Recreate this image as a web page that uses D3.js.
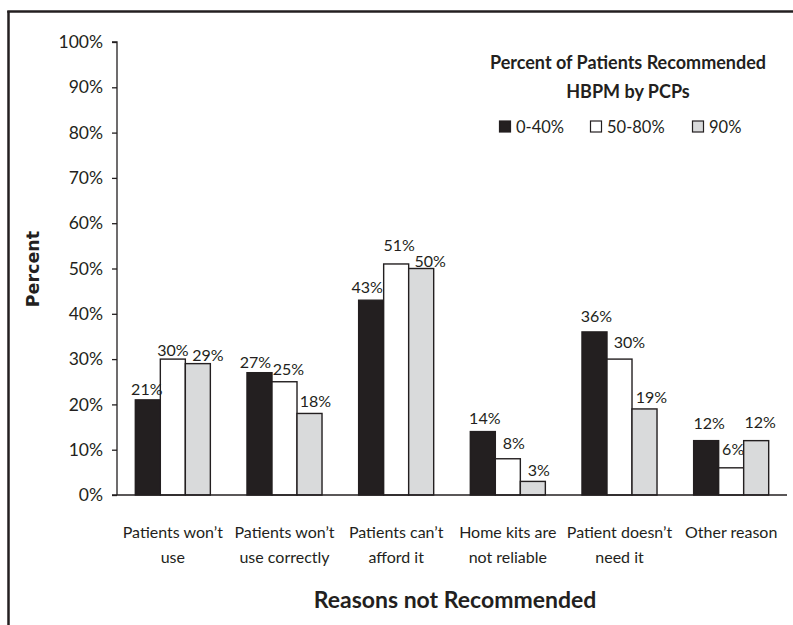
<!DOCTYPE html>
<html>
<head>
<meta charset="utf-8">
<script src="https://cdn.jsdelivr.net/npm/d3@7"></script>
<style>
  html, body { margin: 0; padding: 0; background: #fff; }
  svg { display: block; }
  text { font-family: Lato, "Open Sans", sans-serif; fill: #231f20; }
</style>
</head>
<body>
<svg id="chart" width="793" height="625"></svg>
<script>
// ---- data ----
const categories = [
  ["Patients won\u2019t", "use"],
  ["Patients won\u2019t", "use correctly"],
  ["Patients can\u2019t", "afford it"],
  ["Home kits are", "not reliable"],
  ["Patient doesn\u2019t", "need it"],
  ["Other reason"]
];
const seriesNames = ["0-40%", "50-80%", "90%"];
const low = [21, 27, 43, 14, 36, 12];
const mid = [30, 25, 51, 8, 30, 6];
const high = [29, 18, 50, 3, 19, 12];
const yTicks = [0, 10, 20, 30, 40, 50, 60, 70, 80, 90, 100];
const legendTitle = ["Percent of Patients Recommended", "HBPM  by PCPs"];
const yTitle = "Percent";
const xTitle = "Reasons not Recommended";

// label nudges (px) [dx, gap above bar top] per series/category, as in the original
const labelNudge = [
  [[-1, 10], [-4, 10], [-4, 13], [2, 13], [2, 16], [3, 17]],
  [[0, 9], [4, 12], [3, 19], [6, 15], [10, 17], [2, 18]],
  [[10, 8], [6, 12], [9, 7], [6, 11], [7, 12], [4, 18]]
];

const series = [low, mid, high];
const fills = ["#231f20", "#ffffff", "#d9dadb"];

const svg = d3.select("#chart");
const W = 793, H = 625;

// frame lines
svg.append("line").attr("x1", 8.5).attr("x2", 8.5).attr("y1", 11).attr("y2", H)
  .attr("stroke", "#231f20").attr("stroke-width", 2.5);
svg.append("line").attr("x1", 7.25).attr("x2", W).attr("y1", 11.5).attr("y2", 11.5)
  .attr("stroke", "#231f20").attr("stroke-width", 2.5);

const plot = { left: 117, right: 787, top: 42, bottom: 495 };

const x0 = d3.scaleBand().domain(d3.range(categories.length))
  .range([plot.left, plot.right]).paddingInner(0.328).paddingOuter(0.164);
const x1 = d3.scaleBand().domain(d3.range(series.length))
  .range([0, x0.bandwidth()]);
const y = d3.scaleLinear().domain([0, 100]).range([plot.bottom, plot.top]);

// y axis
const yAxis = d3.axisLeft(y).tickValues(yTicks).tickSize(5).tickPadding(9)
  .tickFormat(d => d + "%");
const gy = svg.append("g").attr("transform", `translate(${plot.left},0)`).call(yAxis);
gy.select(".domain").attr("stroke", "#231f20").attr("stroke-width", 1.3)
  .attr("d", `M-5,${plot.top}H0V${plot.bottom}`);
gy.selectAll(".tick line").attr("stroke", "#231f20").attr("stroke-width", 1.3);
gy.selectAll(".tick text").style("font-size", "17.5px").attr("fill", "#231f20")
  .style("font-family", "Lato, sans-serif");

// bars
series.forEach((vals, s) => {
  svg.append("g").selectAll("rect").data(vals).join("rect")
    .attr("x", (d, i) => x0(i) + x1(s))
    .attr("y", d => y(d))
    .attr("width", x1.bandwidth())
    .attr("height", d => plot.bottom - y(d))
    .attr("fill", fills[s])
    .attr("stroke", "#231f20")
    .attr("stroke-width", 1.4);
});

// x baseline
svg.append("line").attr("x1", plot.left - 5).attr("x2", plot.right)
  .attr("y1", plot.bottom).attr("y2", plot.bottom)
  .attr("stroke", "#231f20").attr("stroke-width", 1.4);

// value labels
series.forEach((vals, s) => {
  svg.append("g").selectAll("text").data(vals).join("text")
    .attr("x", (d, i) => x0(i) + x1(s) + x1.bandwidth() / 2 + labelNudge[s][i][0])
    .attr("y", (d, i) => y(d) - labelNudge[s][i][1])
    .attr("dy", "0.35em")
    .attr("text-anchor", "middle")
    .style("font-size", "16px")
    .text(d => d + "%");
});

// category labels
const catG = svg.append("g");
categories.forEach((lines, i) => {
  const t = catG.append("text")
    .attr("x", x0(i) + x0.bandwidth() / 2)
    .attr("y", 532)
    .attr("text-anchor", "middle")
    .style("font-size", "16px");
  lines.forEach((ln, k) => {
    t.append("tspan").attr("x", x0(i) + x0.bandwidth() / 2)
      .attr("dy", k === 0 ? "0.35em" : "25px").text(ln);
  });
});

// axis titles
svg.append("text").attr("x", 455).attr("y", 600).attr("dy", "0.35em")
  .attr("text-anchor", "middle").style("font-size", "23px").style("font-weight", "bold")
  .text(xTitle);
svg.append("text").attr("transform", "translate(33,269) rotate(-90)")
  .attr("dy", "0.35em").attr("text-anchor", "middle")
  .style("font-family", "'DejaVu Sans', sans-serif")
  .style("font-size", "17.5px").style("font-weight", "bold")
  .text(yTitle);

// legend
legendTitle.forEach((ln, k) => {
  svg.append("text").attr("x", 628).attr("y", 63 + k * 29).attr("dy", "0.35em")
    .attr("text-anchor", "middle").style("font-size", "18px").style("font-weight", "bold")
    .text(ln);
});
const legendX = [499, 590, 692];
seriesNames.forEach((name, s) => {
  svg.append("rect").attr("x", legendX[s] + 0.5).attr("y", 121)
    .attr("width", 11).attr("height", 11)
    .attr("fill", fills[s]).attr("stroke", "#231f20").attr("stroke-width", 1.2);
  svg.append("text").attr("x", legendX[s] + 17).attr("y", 127).attr("dy", "0.35em")
    .style("font-size", "16.5px").text(name);
});
</script>
</body>
</html>
